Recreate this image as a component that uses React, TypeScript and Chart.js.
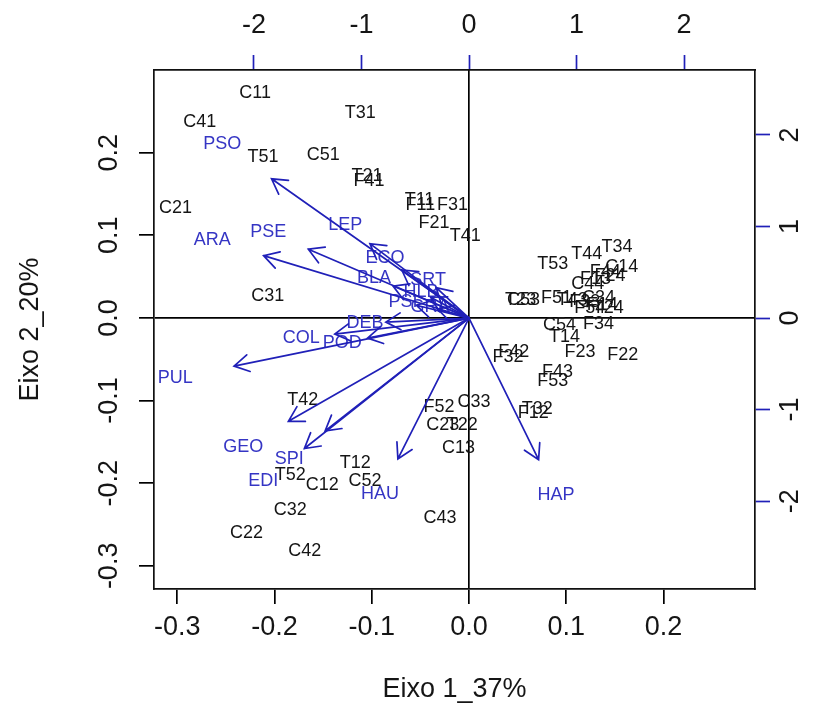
import React, { useEffect, useRef } from "react";
import { Chart, registerables } from "chart.js";

Chart.register(...registerables);

// ---- Data ----
// Observation scores (primary axes: bottom / left)
const obsLabels = [
  "C11", "T31", "C41", "T51", "C51", "T21", "F41", "C21", "T11", "F11", "F31", "F21", "T41", "C31",
  "T42", "T12", "T52", "C12", "C52", "C32", "C22", "C42", "C43", "F52", "C33", "C23", "T22", "C13",
  "F12", "T32", "F32", "F42", "F43", "F53", "F22", "F23", "T14", "C54", "F34", "T34", "T44", "T53",
  "C14", "F44", "F24", "C44", "F13", "C53", "T23", "F51", "T43", "F33", "C34", "T24", "F14", "F54",
];
const obsX = [
  -0.220, -0.112, -0.277, -0.212, -0.150, -0.105, -0.103, -0.302, -0.051, -0.050, -0.017, -0.036, -0.004, -0.207,
  -0.171, -0.117, -0.184, -0.151, -0.107, -0.184, -0.229, -0.169, -0.030, -0.031, 0.005, -0.027, -0.007, -0.011,
  0.066, 0.070, 0.040, 0.046, 0.091, 0.086, 0.158, 0.114, 0.098, 0.093, 0.133, 0.152, 0.121, 0.086,
  0.157, 0.140, 0.145, 0.122, 0.130, 0.056, 0.053, 0.090, 0.106, 0.119, 0.133, 0.143, 0.137, 0.124,
];
const obsY = [
  0.272, 0.248, 0.237, 0.195, 0.197, 0.172, 0.166, 0.133, 0.143, 0.137, 0.137, 0.115, 0.099, 0.027,
  -0.099, -0.175, -0.190, -0.202, -0.197, -0.232, -0.260, -0.282, -0.242, -0.108, -0.102, -0.129, -0.129, -0.157,
  -0.115, -0.110, -0.047, -0.041, -0.065, -0.076, -0.045, -0.041, -0.023, -0.008, -0.007, 0.086, 0.077, 0.065,
  0.062, 0.056, 0.051, 0.041, 0.047, 0.022, 0.022, 0.024, 0.022, 0.019, 0.024, 0.012, 0.016, 0.012,
];

// Variable loadings (secondary axes: top / right)
const varLabels = [
  "PSO", "ARA", "PSE", "LEP", "ECO", "BLA", "SRT", "HLB", "PSI", "GRA",
  "DEB", "COL", "POD", "PUL", "GEO", "SPI", "EDI", "HAU", "HAP",
];
const varX = [
  -2.296, -2.388, -1.868, -1.152, -0.781, -0.883, -0.381, -0.446, -0.613, -0.362,
  -0.967, -1.561, -1.180, -2.732, -2.100, -1.673, -1.914, -0.827, 0.809,
];
const varY = [
  1.902, 0.852, 0.940, 1.016, 0.656, 0.437, 0.415, 0.284, 0.175, 0.120,
  -0.055, -0.219, -0.273, -0.656, -1.410, -1.541, -1.781, -1.923, -1.934,
];

const xTicks = [-0.3, -0.2, -0.1, 0.0, 0.1, 0.2];
const yTicks = [-0.3, -0.2, -0.1, 0.0, 0.1, 0.2];
const x2Ticks = [-2, -1, 0, 1, 2];
const y2Ticks = [-2, -1, 0, 1, 2];
const xRange = [-0.324, 0.294];
const yRange = [-0.328, 0.3];
const x2Range = [-2.93, 2.66];
const y2Range = [-2.96, 2.71];
const xTitle = "Eixo 1_37%";
const yTitle = "Eixo 2_20%";
const arrowShrink = 0.8;

const FONT = "'Liberation Sans', Arial, sans-serif";
const AXIS_SIZE = 27;
const LABEL_SIZE = 18;
const BLUE_TEXT = "#3535c4";
const BLUE_LINE = "#2020b8";
const BLACK = "#151515";

const biplotPlugin = {
  id: "biplot",
  afterDatasetsDraw(chart: any) {
    const ctx = chart.ctx;
    const { y, x2, y2 } = chart.scales;
    const area = chart.chartArea;

    // rotated tick labels for left and right axes
    ctx.save();
    ctx.fillStyle = BLACK;
    ctx.font = `${AXIS_SIZE}px ${FONT}`;
    ctx.textAlign = "center";
    ctx.textBaseline = "middle";
    yTicks.forEach((v) => {
      const py = y.getPixelForValue(v);
      ctx.save();
      ctx.translate(area.left - 44, py);
      ctx.rotate(-Math.PI / 2);
      ctx.fillText(v.toFixed(1), 0, 0);
      ctx.restore();
    });
    y2Ticks.forEach((v) => {
      const py = y2.getPixelForValue(v);
      ctx.save();
      ctx.translate(area.right + 36, py);
      ctx.rotate(-Math.PI / 2);
      ctx.fillText(String(v), 0, 0);
      ctx.restore();
    });
    ctx.restore();

    // observation labels
    const obsMeta = chart.getDatasetMeta(0);
    ctx.save();
    ctx.fillStyle = BLACK;
    ctx.font = `${LABEL_SIZE}px ${FONT}`;
    ctx.textAlign = "center";
    ctx.textBaseline = "middle";
    obsMeta.data.forEach((el: any, i: number) => {
      ctx.fillText(obsLabels[i], el.x, el.y);
    });
    ctx.restore();

    // variable labels
    const varMeta = chart.getDatasetMeta(1);
    ctx.save();
    ctx.fillStyle = BLUE_TEXT;
    ctx.font = `${LABEL_SIZE}px ${FONT}`;
    ctx.textAlign = "center";
    ctx.textBaseline = "middle";
    varMeta.data.forEach((el: any, i: number) => {
      ctx.fillText(varLabels[i], el.x, el.y);
    });
    ctx.restore();

    // arrows
    const ox = x2.getPixelForValue(0);
    const oy = y2.getPixelForValue(0);
    ctx.save();
    ctx.strokeStyle = BLUE_LINE;
    ctx.lineWidth = 1.7;
    ctx.lineCap = "round";
    const head = 17;
    const ang = Math.PI / 6;
    varX.forEach((vx, i) => {
      const tx = x2.getPixelForValue(vx * arrowShrink);
      const ty = y2.getPixelForValue(varY[i] * arrowShrink);
      const theta = Math.atan2(ty - oy, tx - ox);
      ctx.beginPath();
      ctx.moveTo(ox, oy);
      ctx.lineTo(tx, ty);
      ctx.moveTo(tx - head * Math.cos(theta - ang), ty - head * Math.sin(theta - ang));
      ctx.lineTo(tx, ty);
      ctx.lineTo(tx - head * Math.cos(theta + ang), ty - head * Math.sin(theta + ang));
      ctx.stroke();
    });
    ctx.restore();
  },
};

export default function App() {
  const ref = useRef<HTMLCanvasElement | null>(null);

  useEffect(() => {
    if (!ref.current) return;
    const zeroLine = (c: any) =>
      c.tick && Math.abs(c.tick.value) < 1e-9 ? "#000000" : "rgba(0,0,0,0)";
    const chart = new Chart(ref.current, {
      type: "scatter",
      data: {
        datasets: [
          {
            label: "obs",
            data: obsX.map((v, i) => ({ x: v, y: obsY[i] })),
            xAxisID: "x",
            yAxisID: "y",
            pointRadius: 0,
            pointHoverRadius: 0,
          },
          {
            label: "vars",
            data: varX.map((v, i) => ({ x: v, y: varY[i] })),
            xAxisID: "x2",
            yAxisID: "y2",
            pointRadius: 0,
            pointHoverRadius: 0,
          },
        ],
      },
      options: {
        animation: false,
        responsive: false,
        devicePixelRatio: 1,
        layout: { padding: 0 },
        plugins: { legend: { display: false }, tooltip: { enabled: false } },
        scales: {
          x: {
            type: "linear",
            position: "bottom",
            min: xRange[0],
            max: xRange[1],
            afterBuildTicks: (s: any) => {
              s.ticks = xTicks.map((v) => ({ value: v }));
            },
            afterFit: (s: any) => {
              s.height = 127;
            },
            ticks: {
              color: BLACK,
              font: { family: FONT, size: AXIS_SIZE },
              padding: 7,
              autoSkip: false,
              maxRotation: 0,
              callback: (v: any) => Number(v).toFixed(1),
            },
            grid: {
              drawOnChartArea: true,
              color: zeroLine,
              lineWidth: 1.7,
              tickColor: "#000",
              tickLength: 15,
              tickWidth: 1.7,
            },
            border: { display: true, color: "#111", width: 1.7 },
            title: {
              display: true,
              text: xTitle,
              color: BLACK,
              font: { family: FONT, size: AXIS_SIZE },
              padding: { top: 0, bottom: 10 },
            },
          },
          y: {
            type: "linear",
            position: "left",
            min: yRange[0],
            max: yRange[1],
            afterBuildTicks: (s: any) => {
              s.ticks = yTicks.map((v) => ({ value: v }));
            },
            afterFit: (s: any) => {
              s.width = 154;
            },
            ticks: { display: false },
            grid: {
              drawOnChartArea: true,
              color: zeroLine,
              lineWidth: 1.7,
              tickColor: "#000",
              tickLength: 15,
              tickWidth: 1.7,
            },
            border: { display: true, color: "#111", width: 1.7 },
            title: {
              display: true,
              text: yTitle,
              color: BLACK,
              font: { family: FONT, size: AXIS_SIZE },
              padding: { top: 14, bottom: 0 },
            },
          },
          x2: {
            type: "linear",
            position: "top",
            min: x2Range[0],
            max: x2Range[1],
            afterBuildTicks: (s: any) => {
              s.ticks = x2Ticks.map((v) => ({ value: v }));
            },
            afterFit: (s: any) => {
              s.height = 70;
            },
            ticks: {
              color: BLACK,
              font: { family: FONT, size: AXIS_SIZE },
              padding: 13,
              autoSkip: false,
              maxRotation: 0,
              callback: (v: any) => String(v),
            },
            grid: {
              drawOnChartArea: false,
              tickColor: BLUE_LINE,
              tickLength: 15,
              tickWidth: 1.7,
            },
            border: { display: true, color: "#111", width: 1.7 },
          },
          y2: {
            type: "linear",
            position: "right",
            min: y2Range[0],
            max: y2Range[1],
            afterBuildTicks: (s: any) => {
              s.ticks = y2Ticks.map((v) => ({ value: v }));
            },
            afterFit: (s: any) => {
              s.width = 71;
            },
            ticks: { display: false },
            grid: {
              drawOnChartArea: false,
              tickColor: BLUE_LINE,
              tickLength: 15,
              tickWidth: 1.7,
            },
            border: { display: true, color: "#111", width: 1.7 },
          },
        },
      },
      plugins: [biplotPlugin],
    } as any);
    return () => chart.destroy();
  }, []);

  return (
    <div style={{ position: "fixed", left: 0, top: 0, width: 826, height: 716, background: "#fff" }}>
      <canvas ref={ref} width={826} height={716} style={{ display: "block", width: 826, height: 716 }} />
    </div>
  );
}
